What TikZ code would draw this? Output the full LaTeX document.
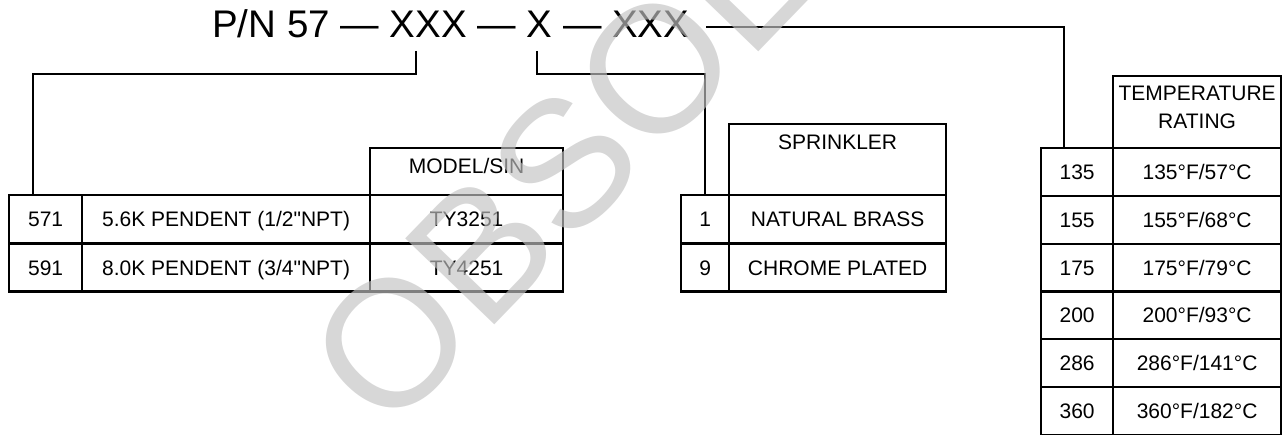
\documentclass[tikz,border=0pt]{standalone}
\usepackage{fontspec}
\newfontfamily\tabfont{Liberation Sans}
\newfontfamily\stempelfont{Liberation Sans}
\usepackage{tikz}
\usetikzlibrary{positioning, calc}
\definecolor{stempelgrau}{gray}{0.76}

\begin{document}
\begin{tikzpicture}[x=1pt, y=-1pt,
    zelle/.style={draw, line width=2.2pt, inner sep=0pt, anchor=north west,
                  text height=15pt, text depth=0pt, font=\tabfont\fontsize{21}{28}\selectfont},
    kopftext/.style={anchor=north, inner sep=0pt, align=center,
                  font=\tabfont\fontsize{21}{28}\selectfont},
    linie/.style={line width=2pt}]
      \useasboundingbox (0,0) rectangle (1282,435);

      % --- Teilenummer ---
      \node[anchor=base west, inner sep=0pt, font=\tabfont\fontsize{38.5}{40}\selectfont] (titel) at (212,37.5)
        {P/N 57 — XXX — X — XXX};
      \coordinate (abzw1) at (416,51);
      \coordinate (abzw2) at (537,51);
      \coordinate (abzw3) at (706,26.7);
      \coordinate (knick1) at (33,74);
      \coordinate (knick2) at (705,74);
      \coordinate (knick3) at (1064,26.7);

      % --- Modell (links) ---
      \node[zelle, minimum width=193pt, minimum height=47pt,
            label={[kopftext, yshift=-11pt]north:MODEL/SIN}] (modkopf) at (369,147) {};
      \node[zelle, minimum width=73pt, minimum height=48.5pt] (nr571) at (8,194) {571};
      \node[zelle, minimum width=288pt, minimum height=48.5pt] (bez571) at (81,194) {5.6K PENDENT (1/2"NPT)};
      \node[zelle, minimum width=193pt, minimum height=48.5pt] (mod571) at (369,194) {TY3251};
      \node[zelle, minimum width=73pt, minimum height=48pt] (nr591) at (8,242.5) {591};
      \node[zelle, minimum width=288pt, minimum height=48pt] (bez591) at (81,242.5) {8.0K PENDENT (3/4"NPT)};
      \node[zelle, minimum width=193pt, minimum height=48pt] (mod591) at (369,242.5) {TY4251};

      % --- Oberflaeche (Mitte) ---
      \node[zelle, minimum width=217pt, minimum height=71pt,
            label={[kopftext, yshift=-12pt]north:SPRINKLER}] (sprkopf) at (728,123) {};
      \node[zelle, minimum width=48pt, minimum height=48.5pt] (nr1) at (680,194) {1};
      \node[zelle, minimum width=217pt, minimum height=48.5pt] (bez1) at (728,194) {NATURAL BRASS};
      \node[zelle, minimum width=48pt, minimum height=48pt] (nr9) at (680,242.5) {9};
      \node[zelle, minimum width=217pt, minimum height=48pt] (bez9) at (728,242.5) {CHROME PLATED};

      % --- Temperatur (rechts) ---
      \node[zelle, minimum width=168pt, minimum height=72pt,
            label={[kopftext, yshift=-10.5pt]north:TEMPERATURE\\RATING}] (tempkopf) at (1112,75) {};
      \node[zelle, minimum width=72pt, minimum height=47.8pt] (t135) at (1040,147) {135};
      \node[zelle, minimum width=168pt, minimum height=47.8pt] (g135) at (1112,147) {135°F/57°C};
      \node[zelle, minimum width=72pt, minimum height=47.8pt] (t155) at (1040,194.8) {155};
      \node[zelle, minimum width=168pt, minimum height=47.8pt] (g155) at (1112,194.8) {155°F/68°C};
      \node[zelle, minimum width=72pt, minimum height=47.8pt] (t175) at (1040,242.6) {175};
      \node[zelle, minimum width=168pt, minimum height=47.8pt] (g175) at (1112,242.6) {175°F/79°C};
      \node[zelle, minimum width=72pt, minimum height=47.8pt] (t200) at (1040,290.4) {200};
      \node[zelle, minimum width=168pt, minimum height=47.8pt] (g200) at (1112,290.4) {200°F/93°C};
      \node[zelle, minimum width=72pt, minimum height=47.8pt] (t286) at (1040,338.2) {286};
      \node[zelle, minimum width=168pt, minimum height=47.8pt] (g286) at (1112,338.2) {286°F/141°C};
      \node[zelle, minimum width=72pt, minimum height=47.8pt] (t360) at (1040,386) {360};
      \node[zelle, minimum width=168pt, minimum height=47.8pt] (g360) at (1112,386) {360°F/182°C};

      % Verbindungslinien
      \draw[linie] (abzw1) |- (knick1) -- (knick1 |- nr571.north);
      \draw[linie] (abzw2) |- (knick2) -- (knick2 |- nr1.north);
      \draw[linie] (abzw3) -- (knick3) -- (knick3 |- t135.north);

      % --- Stempel ---
      \begin{scope}
        \clip (0,0) rectangle (1282,435);
        \node[rotate=46, anchor=base west, inner sep=0pt, text=stempelgrau, text opacity=0.66,
              font=\stempelfont\fontsize{180}{180}\selectfont] (stempel) at (387,436.5) {OBSOLETE};
      \end{scope}
    \end{tikzpicture}
\end{document}
